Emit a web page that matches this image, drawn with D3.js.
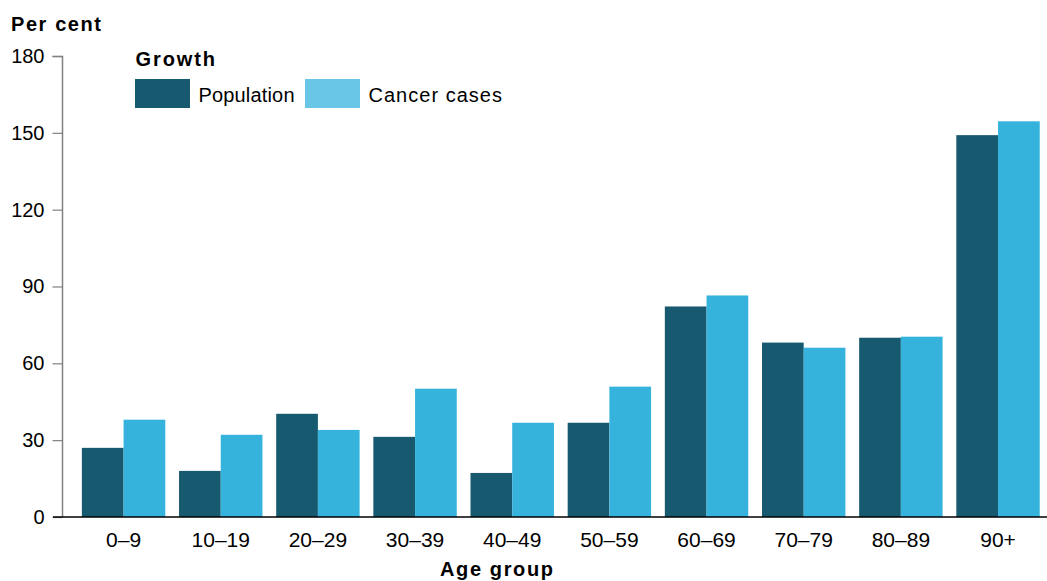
<!DOCTYPE html>
<html><head><meta charset="utf-8">
<script src="https://cdn.jsdelivr.net/npm/d3@7"></script>
<style>body{margin:0;background:#fff}svg{display:block}text{font-family:"Liberation Sans",Arial,sans-serif}</style>
</head><body>
<svg id="c" width="1047" height="581"></svg>
<script>
const categories = ["0–9","10–19","20–29","30–39","40–49","50–59","60–69","70–79","80–89","90+"];
const population = [27.0,18.0,40.3,31.3,17.2,36.8,82.2,68.1,70.0,149.1];
const cancerCases = [38.0,32.1,34.0,50.1,36.8,50.9,86.5,66.1,70.4,154.5];
const yTicks = [0,30,60,90,120,150,180];
const seriesNames = ["Population","Cancer cases"];

const svg = d3.select("#c");
const colors = ["#175a70","#35b3dc"];
const legendColors = ["#175a70","#69c6e6"];
const FONT = "Liberation Sans, Arial, sans-serif";

const y = d3.scaleLinear().domain([0,180]).range([517,56]);
const x = d3.scaleBand().domain(categories).range([75,1046.6]).paddingInner(0.1415).paddingOuter(0.0707);
const x1 = d3.scaleBand().domain([0,1]).range([0,x.bandwidth()]);

// bars
const data = categories.map((c,i)=>({c, v:[population[i],cancerCases[i]]}));
const g = svg.append("g");
data.forEach(d=>{
  d.v.forEach((v,k)=>{
    g.append("rect").attr("x",x(d.c)+x1(k)).attr("width",x1.bandwidth())
      .attr("y",y(v)).attr("height",y(0)-y(v)).attr("fill",colors[k]);
  });
});

// y axis
const ya = svg.append("g").attr("transform","translate(62.5,0)")
  .call(d3.axisLeft(y).tickValues(yTicks).tickSize(10).tickPadding(8));
ya.attr("font-size",null).attr("font-family",null);
ya.select(".domain").attr("stroke","#808080").attr("stroke-width",1.5).attr("d","M-10,56.5H0V517");
ya.selectAll(".tick line").attr("stroke","#808080").attr("stroke-width",1.2);
ya.selectAll(".tick text").style("font-size","20px").attr("fill","#000").style("font-family",FONT);

// x axis
const xa = svg.append("g").attr("transform","translate(0,517)")
  .call(d3.axisBottom(x).tickSize(0).tickPadding(15));
xa.attr("font-size",null).attr("font-family",null);
xa.select(".domain").attr("stroke","#000").attr("stroke-width",1.5).attr("d","M53,0H1047");
xa.selectAll(".tick text").style("font-size","21px").attr("fill","#000").style("font-family",FONT);

// titles
svg.append("text").attr("x",11).attr("y",31).style("font-size","20px").attr("font-weight","bold")
  .attr("textLength",90).attr("lengthAdjust","spacing").text("Per cent");
svg.append("text").attr("x",440).attr("y",576).style("font-size","20px").attr("font-weight","bold")
  .attr("textLength",113).attr("lengthAdjust","spacing").text("Age group");

// legend
svg.append("text").attr("x",135.5).attr("y",65.7).style("font-size","20px").attr("font-weight","bold")
  .attr("textLength",79.5).attr("lengthAdjust","spacing").text("Growth");
const lx = [135,305];
const lw = [96,133.5];
seriesNames.forEach((n,k)=>{
  svg.append("rect").attr("x",lx[k]).attr("y",79).attr("width",55).attr("height",29).attr("fill",legendColors[k]);
  svg.append("text").attr("x",lx[k]+63.5).attr("y",102).style("font-size","20px")
    .attr("textLength",lw[k]).attr("lengthAdjust","spacing").text(n);
});
</script>
</body></html>
